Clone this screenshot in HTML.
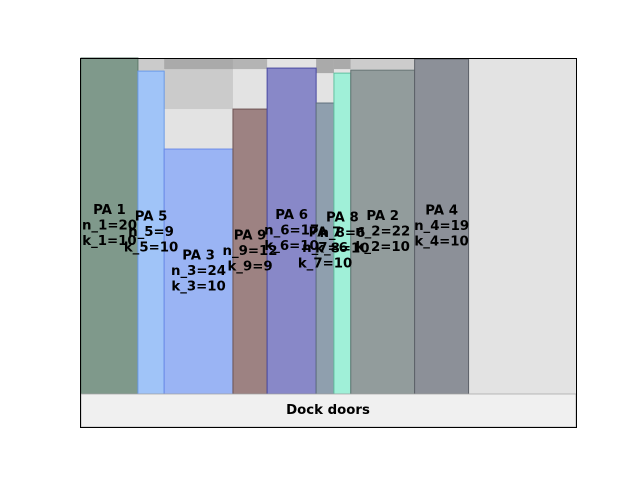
<!DOCTYPE html>
<html><head><meta charset="utf-8"><style>
body{margin:0;background:#fff;}
svg text{font-family:"DejaVu Sans","Liberation Sans",sans-serif;font-weight:bold;font-size:13.3px;}
</style></head><body>
<svg id="c" width="640" height="480" xmlns="http://www.w3.org/2000/svg">
<rect x="81" y="58" width="495" height="336" fill="#e3e3e3"/>
<g id="bg"></g>
<g id="bars"></g>
<g id="labels"></g>
<rect x="81" y="394" width="495" height="33" fill="#f0f0f0" stroke="#aaa" stroke-width="0.8"/>
<text x="328" y="414" text-anchor="middle">Dock doors</text>
<rect x="80.5" y="58.5" width="496" height="369" fill="none" stroke="#000" stroke-width="1"/>
</svg>
<script>
const names=["PA 1","PA 5","PA 3","PA 9","PA 6","PA 7","PA 8","PA 2","PA 4"];
const ids=["1","5","3","9","6","7","8","2","4"];
const nVals=[20,9,24,12,17,6,6,22,19];
const kVals=[10,10,10,9,10,10,10,10,10];
const xStarts=[0,11.5,16.8,30.7,37.6,47.5,51.1,54.5,67.4];
const widths=[11.5,5.3,13.9,6.9,9.9,3.6,3.4,12.9,10.9];
const heights=[100,96.1,72.9,84.8,97.0,86.6,95.5,96.4,99.7];
const fills=["#7f998b","#a0c4f8","#9ab4f4","#9d8282","#8888c8","#8f9fae","#a0f0d8","#929c9c","#8c9098"];
const strokes=["#5f7a6b","#6a9ae8","#6a8ae8","#6d5252","#4848a0","#5f6f7e","#60c0a0","#627070","#5c6068"];
const bgBands=[[11.5,5.3,100,96.1,"#cbcbcb"],[16.8,13.9,100,84.8,"#cbcbcb"],[16.8,13.9,100,96.7,"#aaaaaa"],[30.7,6.9,100,96.7,"#b4b4b4"],[47.5,3.6,100,95.5,"#aaaaaa"],[51.1,3.4,100,96.7,"#aaaaaa"],[54.5,12.9,100,96.7,"#cccccc"]];
const X=v=>81+v*4.95, Y=v=>394-v*3.36;
const NS="http://www.w3.org/2000/svg";
const bg=document.getElementById('bg'),bars=document.getElementById('bars'),lab=document.getElementById('labels');
bgBands.forEach(b=>{const r=document.createElementNS(NS,'rect');
r.setAttribute('x',X(b[0]));r.setAttribute('width',b[1]*4.95);r.setAttribute('y',Y(b[2]));r.setAttribute('height',Y(b[3])-Y(b[2]));r.setAttribute('fill',b[4]);


bg.appendChild(r);});
names.forEach((n,i)=>{const r=document.createElementNS(NS,'rect');
r.setAttribute('x',X(xStarts[i]));r.setAttribute('width',widths[i]*4.95);r.setAttribute('y',Y(heights[i]));r.setAttribute('height',heights[i]*3.36);
r.setAttribute('fill',fills[i]);r.setAttribute('stroke',strokes[i]);r.setAttribute('stroke-width','1');


bars.appendChild(r);
const cx=X(xStarts[i]+widths[i]/2), cy=(Y(heights[i])+394)/2;
const lines=[n,"n_"+ids[i]+"="+nVals[i],"k_"+ids[i]+"="+kVals[i]];
lines.forEach((s,j)=>{const t=document.createElementNS(NS,'text');
t.setAttribute('x',cx);t.setAttribute('y',cy+(j-1)*15.5+3.5);t.setAttribute('text-anchor','middle');t.textContent=s;


lab.appendChild(t);});});
</script>
</body></html>
